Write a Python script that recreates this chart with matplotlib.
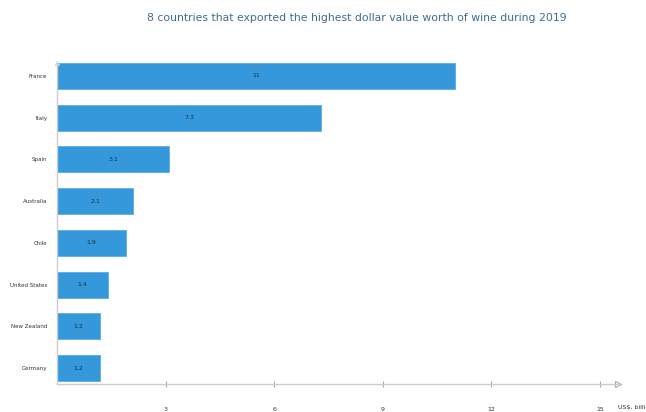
import matplotlib.pyplot as plt

paises = ["France", "Italy", "Spain", "Australia", "Chile", "United States", "New Zealand", "Germany"]
valores = [11, 7.3, 3.1, 2.1, 1.9, 1.4, 1.2, 1.2]
etiquetas = ["11", "7.3", "3.1", "2.1", "1.9", "1.4", "1.2", "1.2"]
ticks_x = [3, 6, 9, 12, 15]

fig = plt.figure(figsize=(6.46, 4.12), dpi=100)
ax = fig.add_axes([57 / 646, 28 / 412, 561 / 646, 321 / 412])

pos = list(range(len(paises)))
barras = ax.barh(pos, valores, height=0.62, color="#3498db", edgecolor="#5aaee6", linewidth=0.6)
for b, txt in zip(barras, etiquetas):
    ax.text(b.get_width() / 2, b.get_y() + b.get_height() / 2, txt,
            ha="center", va="center", fontsize=4.5, color="#1f2d3a")

ax.set_xlim(0, 15.5)
ax.set_ylim(7.38, -0.31)
ax.set_yticks(pos)
ax.set_yticklabels(paises, fontsize=4.0, color="#333333")
ax.set_xticks(ticks_x)
ax.set_xticklabels([str(t) for t in ticks_x], fontsize=4.5, color="#333333")
ax.tick_params(axis="y", length=0, pad=7)
ax.tick_params(axis="x", direction="inout", length=5, color="#aaaaaa", width=0.8, pad=14)

for s in ["top", "right"]:
    ax.spines[s].set_visible(False)
for s in ["left", "bottom"]:
    ax.spines[s].set_color("#cccccc")
    ax.spines[s].set_linewidth(1)

# flechas de los ejes
ax.plot(1, 0, marker=">", transform=ax.transAxes, clip_on=False, markersize=5,
        markerfacecolor="white", markeredgecolor="#aaaaaa", markeredgewidth=0.8)
ax.plot(0, 1, marker="^", transform=ax.transAxes, clip_on=False, markersize=3,
        markerfacecolor="white", markeredgecolor="#cccccc", markeredgewidth=0.6)

fig.text(618 / 646, 5 / 412, "US$, billion", fontsize=4.5, color="#333333", ha="left", va="center")
fig.text(357 / 646, 394 / 412, "8 countries that exported the highest dollar value worth of wine during 2019",
         fontsize=7.8, color="#3d6e8e", ha="center", va="center")

fig.savefig("out.png", dpi=100)
